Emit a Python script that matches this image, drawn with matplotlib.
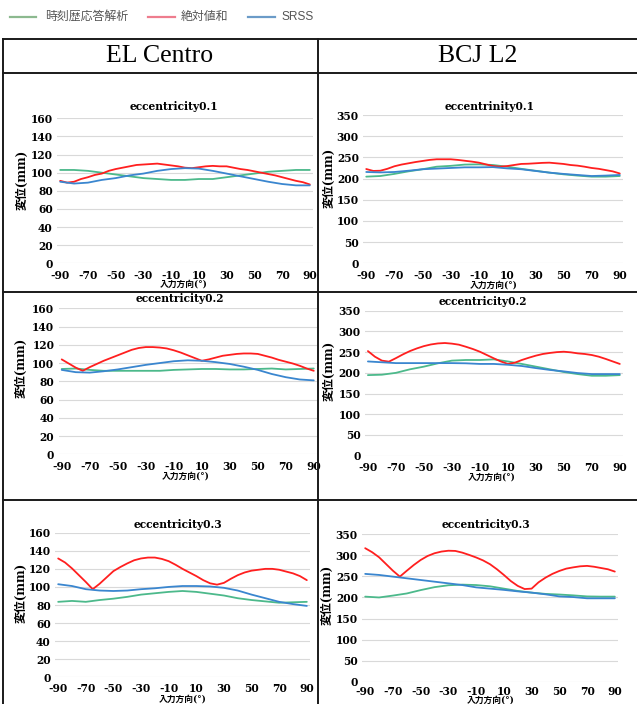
import matplotlib
matplotlib.use("Agg")
import matplotlib.pyplot as plt
from matplotlib.lines import Line2D

plt.rcParams["font.family"] = ["DejaVu Serif", "Noto Sans CJK JP"]
plt.rcParams["axes.unicode_minus"] = False

# ---- data ----
ANGLES = list(range(-90, 91, 10))        # 時刻歴 / SRSS sampled every 10 deg
ANGLES_FINE = list(range(-90, 91, 5))    # 絶対値和 sampled every 5 deg
X_TICKS = list(range(-90, 91, 20))
COLUMNS = ["EL Centro", "BCJ L2"]
SERIES_NAMES = ["時刻歴応答解析", "絶対値和", "SRSS"]
TITLES = [["eccentricity0.1", "eccentrinity0.1"],
          ["eccentricity0.2", "eccentricity0.2"],
          ["eccentricity0.3", "eccentricity0.3"]]
Y_TICKS = [list(range(0, 161, 20)), list(range(0, 351, 50))]
X_LABEL = "入力方向(°)"
Y_LABEL = "変位(mm)"

el_e01_tha = [103, 103, 102, 100, 98, 96, 94, 93, 92, 92, 93, 93, 95, 97,
              99, 101, 102, 103, 103]
el_e01_abs = [91, 89, 90, 93, 95, 97.5, 99, 102, 104, 105.5, 107, 108.5, 109,
              109.5, 110, 109, 108, 107, 105.5, 105, 106, 107, 107.5, 107,
              107, 105.5, 104, 103, 101.5, 100, 98.5, 97, 95, 93, 91, 89.5, 87]
el_e01_srss = [90, 88, 89, 92, 94, 97, 99, 102, 104, 105, 104.5, 102, 99, 96,
               93, 90, 87.5, 86, 86]

bcj_e01_tha = [204.5, 206, 211, 217, 222, 228, 230, 233, 233.5, 232, 228, 223,
               218.5, 214, 210, 207, 204.5, 204.5, 206]
bcj_e01_abs = [222.5, 218, 218.5, 223, 229, 233, 236, 239, 241.5, 244, 245.5,
               245.5, 245.5, 244, 242, 240, 237.5, 233.5, 229.5, 228, 229.5,
               232, 234.5, 235, 236, 237, 237.5, 236, 234.5, 232, 230.5, 228,
               225, 223, 220, 217, 212]
bcj_e01_srss = [215.5, 214.5, 215.5, 218.5, 222, 223.5, 225, 226.5, 226.5,
                227, 224, 222, 218, 214, 211, 208.5, 206, 207, 208.5]

el_e02_tha = [93.5, 94, 92.5, 91.5, 91.5, 91.5, 91.5, 91.5, 92.5, 93, 93.5,
              93.5, 93, 93, 93.5, 94, 93, 93.5, 94]
el_e02_abs = [104, 99.5, 95, 91.5, 95.5, 99, 102.5, 105.5, 108.5, 111.5, 114.5,
              116.5, 117.5, 117.5, 117, 116, 114, 111.5, 108.5, 105.5, 102.5,
              104, 106, 108, 109, 110, 110.5, 110.5, 110, 108, 106, 103.5,
              101.5, 99.5, 97, 94, 91.5]
el_e02_srss = [92.5, 90, 89.5, 91, 93, 95.5, 98, 100, 102, 103, 102.5, 101, 99,
               96, 92.5, 88, 84.5, 82, 81]

bcj_e02_tha = [194.5, 195.5, 200, 208.5, 215, 223, 229.5, 231, 231, 232.5,
               227.5, 221.5, 215, 208.5, 202, 197, 193, 193, 194.5]
bcj_e02_abs = [252.5, 239, 229.5, 227, 235.5, 244.5, 252.5, 259, 264.5, 268.5,
               271, 272, 270.5, 268, 263, 257.5, 251, 243, 235, 227.5, 221.5,
               224.5, 231, 236.5, 241.5, 245.5, 248, 250, 251, 249.5, 247,
               245.5, 243, 239, 233.5, 227.5, 221.5]
bcj_e02_srss = [227.5, 225.5, 223.5, 223.5, 223.5, 223.5, 223.5, 223, 221.5,
                221.5, 219.5, 216.5, 211.5, 207, 203.5, 199.5, 197, 197, 197]

el_e03_tha = [83.5, 84.5, 83.5, 85.5, 87, 89, 91.5, 93, 94.5, 95.5, 94.5, 92.5,
              90.5, 87.5, 85.5, 84, 82.5, 83, 83.5]
el_e03_abs = [131.5, 127, 120.5, 113, 105.5, 97.5, 103.5, 110.5, 117.5, 122,
              126, 129.5, 131.5, 132.5, 132.5, 131, 128.5, 124.5, 120, 116,
              112, 107.5, 104, 102.5, 104.5, 109, 113, 116, 118, 119, 120, 120,
              119, 117, 115, 112, 107.5]
el_e03_srss = [103, 101, 97.5, 96, 95.5, 96, 97.5, 98.5, 100, 101, 101, 100.5,
               99, 96, 91.5, 87.5, 83.5, 81, 79]

bcj_e03_tha = [202, 200, 204.5, 209.5, 217.5, 224.5, 229, 230.5, 229.5, 226.5,
               221, 215.5, 211.5, 208.5, 207, 205, 202.5, 202, 202]
bcj_e03_abs = [317, 307.5, 295.5, 279.5, 263.5, 249.5, 263.5, 277, 289, 298.5,
               305, 309, 311, 310.5, 306.5, 301, 295, 288, 279, 267, 253.5,
               239, 227.5, 220, 221, 236, 247, 256, 263, 268.5, 271.5, 274,
               275, 273, 270, 267, 261.5]
bcj_e03_srss = [256, 253.5, 249.5, 245.5, 241.5, 237.5, 233.5, 229.5, 224,
                221, 218, 214.5, 211.5, 207.5, 202.5, 201, 198, 198, 198]

DATA = [[(el_e01_tha, el_e01_abs, el_e01_srss),
         (bcj_e01_tha, bcj_e01_abs, bcj_e01_srss)],
        [(el_e02_tha, el_e02_abs, el_e02_srss),
         (bcj_e02_tha, bcj_e02_abs, bcj_e02_srss)],
        [(el_e03_tha, el_e03_abs, el_e03_srss),
         (bcj_e03_tha, bcj_e03_abs, bcj_e03_srss)]]

# ---- layout in pixels (top-left origin) ----
W, H = 637, 704
LINE_COLORS = ["#4cb98b", "#ff1f1f", "#3a86cf"]
LEGEND_COLORS = ["#8cb98f", "#ee7d8e", "#6b9bc8"]

# axes box: left, top, right, bottom ; title / ylabel / xlabel centres ; x tick pad
PANELS = [
    [dict(box=(57, 118.3, 313, 263.3), title=(174, 107), yl=(22.5, 180), xl=(184, 284), xpad=4.5),
     dict(box=(363, 115, 623, 263.3), title=(490, 106.5), yl=(329, 178), xl=(494, 285), xpad=4.5)],
    [dict(box=(58.5, 308.3, 317, 454.3), title=(180, 298.5), yl=(21, 368), xl=(186, 476), xpad=4.5),
     dict(box=(364.7, 310.7, 623, 455.7), title=(483, 301.5), yl=(329.5, 371), xl=(492, 477), xpad=4.5)],
    [dict(box=(55, 532.7, 310, 677.3), title=(177.5, 525), yl=(21, 592.5), xl=(183, 699.5), xpad=4.0),
     dict(box=(362, 534.3, 618, 681.7), title=(486, 524), yl=(327, 595), xl=(491, 700.5), xpad=3.2)],
]


def fx(x):
    return x / W


def fy(y):
    return 1 - y / H


fig = plt.figure(figsize=(W / 100, H / 100), dpi=100)
fig.patch.set_facecolor("white")

# legend strip
legend_items = [(10, 36, 45), (148, 175, 181), (248, 275, 281)]
for (x0, x1, tx), name, c in zip(legend_items, SERIES_NAMES, LEGEND_COLORS):
    fig.add_artist(Line2D([fx(x0), fx(x1)], [fy(17), fy(17)], color=c, lw=1.6))
    fig.text(fx(tx), fy(17), name, ha="left", va="center", fontsize=8.6,
             color="#555555", family=["Liberation Sans", "Noto Sans CJK JP"])

# table borders
border = dict(color="#1a1a1a", lw=1.4)
for y in (39, 72.5, 292, 500):
    fig.add_artist(Line2D([fx(2.5), fx(637)], [fy(y), fy(y)], **border))
for x in (2.5, 318):
    fig.add_artist(Line2D([fx(x), fx(x)], [fy(39), fy(704)], **border))

for name, cx in zip(COLUMNS, (160, 478)):
    fig.text(fx(cx), fy(55.5), name, ha="center", va="center", fontsize=18.5,
             family=["Liberation Serif"])

for r, row in enumerate(PANELS):
    for c, p in enumerate(row):
        l, t, rr, b = p["box"]
        ax = fig.add_axes([fx(l), fy(b), (rr - l) / W, (b - t) / H])
        tha, absv, srss = DATA[r][c]
        ax.plot(ANGLES, tha, color=LINE_COLORS[0], lw=1.3, solid_capstyle="round")
        ax.plot(ANGLES_FINE, absv, color=LINE_COLORS[1], lw=1.3, solid_capstyle="round")
        ax.plot(ANGLES, srss, color=LINE_COLORS[2], lw=1.3, solid_capstyle="round")
        yt = Y_TICKS[c]
        ax.set_ylim(yt[0], yt[-1])
        ax.set_yticks(yt)
        ax.set_xlim(-92.3, 92.3)
        ax.set_xticks(X_TICKS)
        ax.grid(axis="y", color="#d9d9d9", lw=0.8)
        ax.set_axisbelow(True)
        for s in ax.spines.values():
            s.set_visible(False)
        ax.tick_params(length=0, labelsize=7.7, pad=3)
        ax.tick_params(axis="x", pad=p["xpad"])
        for lab in ax.get_xticklabels() + ax.get_yticklabels():
            lab.set_fontweight("bold")
        fig.text(fx(p["title"][0]), fy(p["title"][1]), TITLES[r][c],
                 ha="center", va="center", fontsize=7.7, fontweight="bold")
        fig.text(fx(p["yl"][0]), fy(p["yl"][1]), Y_LABEL, rotation=90,
                 ha="center", va="center", fontsize=8.6, fontweight="bold")
        fig.text(fx(p["xl"][0]), fy(p["xl"][1]), X_LABEL,
                 ha="center", va="center", fontsize=6.3, fontweight="bold")

fig.savefig("out.png", dpi=100, facecolor="white")
